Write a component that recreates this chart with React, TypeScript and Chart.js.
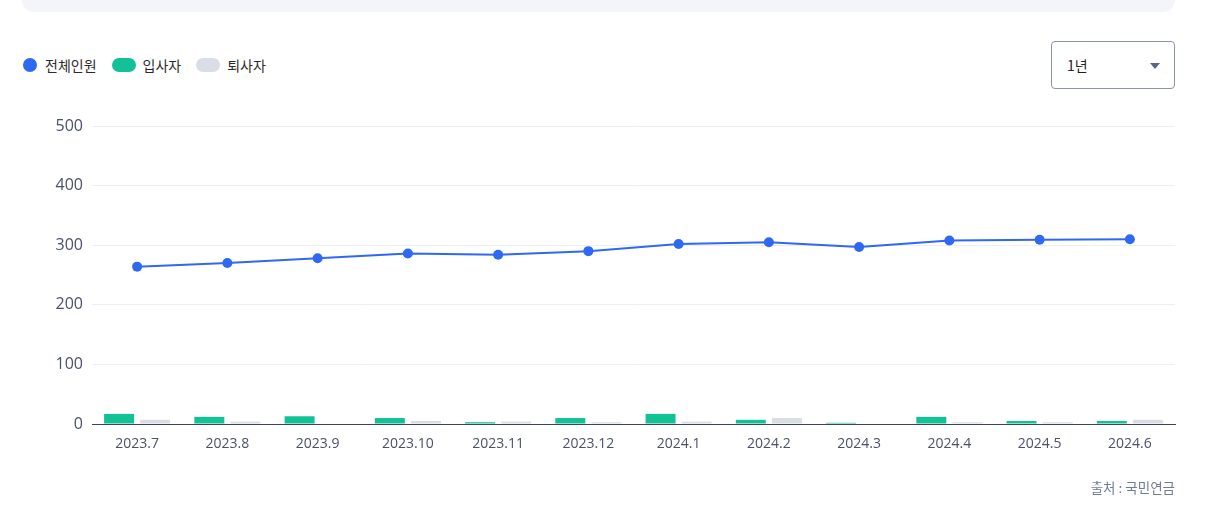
import React, { useEffect, useRef } from "react";
import { Chart, registerables } from "chart.js";

Chart.register(...registerables);

const categories = ["2023.7", "2023.8", "2023.9", "2023.10", "2023.11", "2023.12", "2024.1", "2024.2", "2024.3", "2024.4", "2024.5", "2024.6"];
const totalMembers = [264, 270, 278, 286, 284, 290, 302, 305, 297, 308, 309, 310];
const joined = [17, 12, 13, 10, 3, 10, 17, 7, 2, 12, 5, 5];
const left = [7, 4, 0, 5, 4, 3, 4, 10, 0, 3, 3, 7];
const yTicks = [0, 100, 200, 300, 400, 500];

const FONT = "'Noto Sans CJK KR', 'Noto Sans', sans-serif";
const TICK_FONT = "'Open Sans', 'Noto Sans CJK KR', sans-serif";
const BLUE = "#2f68f3";
const GREEN = "#13c197";
const GREY = "#d9dde6";

export default function App() {
  const canvasRef = useRef<HTMLCanvasElement | null>(null);

  useEffect(() => {
    document.body.style.margin = "0";
    const ctx = canvasRef.current!;
    const chart = new Chart(ctx, {
      type: "bar",
      data: {
        labels: categories,
        datasets: [
          {
            type: "line",
            label: "전체인원",
            data: totalMembers,
            borderColor: BLUE,
            backgroundColor: BLUE,
            borderWidth: 2,
            pointRadius: 5,
            pointBackgroundColor: BLUE,
            pointBorderWidth: 0,
            tension: 0,
            order: 0,
          } as any,
          {
            type: "bar",
            label: "입사자",
            data: joined,
            backgroundColor: GREEN,
            categoryPercentage: 0.8,
            barPercentage: 0.83,
            order: 1,
          },
          {
            type: "bar",
            label: "퇴사자",
            data: left,
            backgroundColor: GREY,
            categoryPercentage: 0.8,
            barPercentage: 0.83,
            order: 1,
          },
        ],
      },
      options: {
        animation: false,
        responsive: false,
        maintainAspectRatio: false,
        layout: { padding: { left: 40, right: 50, top: 26, bottom: 16 } },
        plugins: { legend: { display: false }, tooltip: { enabled: false } },
        scales: {
          x: {
            grid: { display: false, drawTicks: false },
            border: { display: true, color: "#3d4356", width: 1 },
            ticks: { color: "#4b5168", font: { family: TICK_FONT, size: 14 }, padding: 12, maxRotation: 0 },
            afterFit: (s: any) => { s.height = 40; },
          },
          y: {
            min: 0,
            max: 500,
            afterBuildTicks: (s: any) => { s.ticks = yTicks.map((v) => ({ value: v })); },
            grid: { color: "#eceef3", drawTicks: false, lineWidth: 1 },
            border: { display: false },
            ticks: { color: "#4b5168", font: { family: TICK_FONT, size: 16 }, padding: 9 },
            afterFit: (s: any) => { s.width = 52; },
          },
        },
      },
    });
    return () => chart.destroy();
  }, []);

  const legendText: React.CSSProperties = { fontSize: 14, color: "#2b2b2b", fontFamily: FONT, lineHeight: "20px" };

  return (
    <div style={{ position: "relative", width: 1225, height: 512, fontFamily: FONT, background: "#fff", overflow: "hidden" }}>
      <div style={{ position: "absolute", left: 22, top: -20, width: 1153, height: 32, background: "#f4f5f8", borderRadius: 12 }} />
      <div style={{ position: "absolute", left: 23, top: 55, display: "flex", alignItems: "center" }}>
        <span style={{ width: 14, height: 14, borderRadius: 7, background: BLUE, display: "inline-block" }} />
        <span style={{ ...legendText, marginLeft: 8 }}>전체인원</span>
        <span style={{ width: 24, height: 14, borderRadius: 7, background: GREEN, display: "inline-block", marginLeft: 15 }} />
        <span style={{ ...legendText, marginLeft: 7 }}>입사자</span>
        <span style={{ width: 24, height: 14, borderRadius: 7, background: GREY, display: "inline-block", marginLeft: 15 }} />
        <span style={{ ...legendText, marginLeft: 7 }}>퇴사자</span>
      </div>
      <div style={{ position: "absolute", left: 1051, top: 41, width: 122, height: 46, border: "1px solid #8a93a8", borderRadius: 4, boxSizing: "content-box" }}>
        <span style={{ position: "absolute", left: 15, top: 13, fontSize: 14, color: "#222", lineHeight: "20px" }}>1년</span>
        <span style={{ position: "absolute", left: 98, top: 21, width: 0, height: 0, borderLeft: "5px solid transparent", borderRight: "5px solid transparent", borderTop: "6px solid #5b6480" }} />
      </div>
      <canvas ref={canvasRef} width={1225} height={380} style={{ position: "absolute", left: 0, top: 100, width: 1225, height: 380 }} />
      <div style={{ position: "absolute", right: 50, top: 477, fontSize: 13.5, color: "#6f7c98", lineHeight: "20px" }}>출처 : 국민연금</div>
    </div>
  );
}
